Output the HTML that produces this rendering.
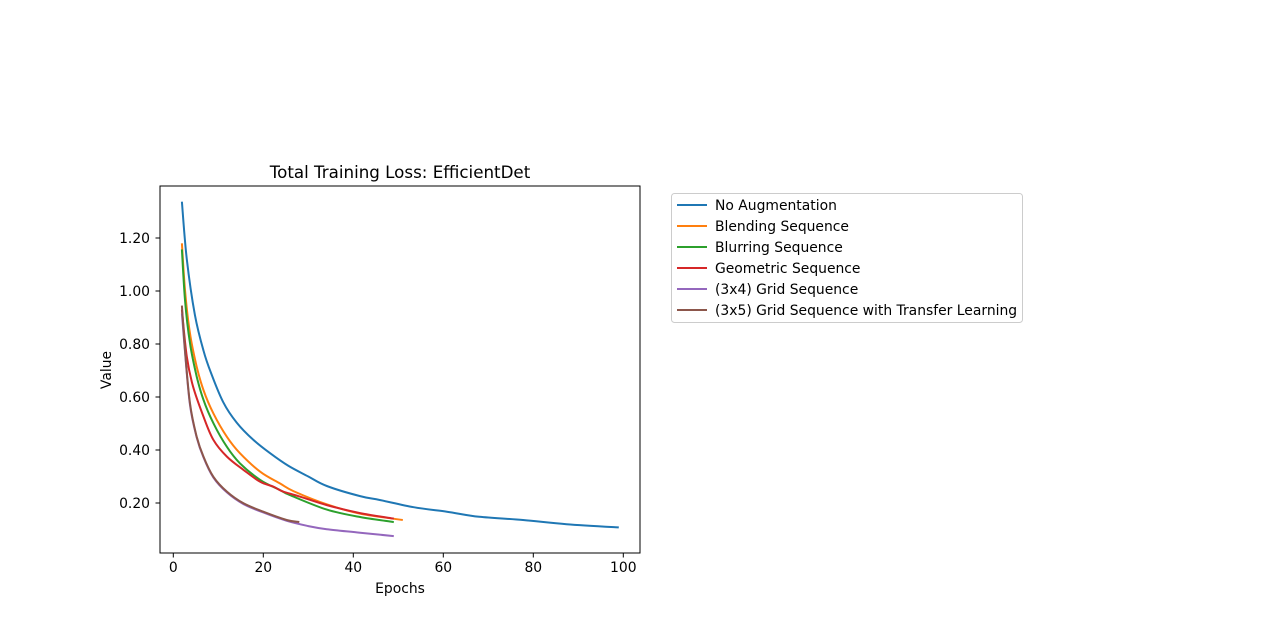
<!DOCTYPE html>
<html><head><meta charset="utf-8">
<style>
html,body{margin:0;padding:0;background:#fff;}
svg{display:block;font-family:"DejaVu Sans","Liberation Sans",sans-serif;}
</style></head>
<body>
<svg id="chart" width="1280" height="621" viewBox="0 0 1280 621">
<text x="400" y="178" font-size="16.7" text-anchor="middle">Total Training Loss: EfficientDet</text>
<g id="plot"></g>
<g id="axes"></g>
<rect x="160" y="186" width="480" height="367" fill="none" stroke="#000" stroke-width="1"/>
<text x="400" y="593" font-size="13.9" text-anchor="middle">Epochs</text>
<text x="111" y="370" font-size="13.9" text-anchor="middle" transform="rotate(-90 111 370)">Value</text>
<g id="legend">
<rect x="671.5" y="193.5" width="351" height="129" rx="3" fill="#fff" stroke="#ccc"/>
</g>
</svg>
<script>
const seriesNames = ["No Augmentation","Blending Sequence","Blurring Sequence","Geometric Sequence","(3x4) Grid Sequence","(3x5) Grid Sequence with Transfer Learning"];
const colors = ["#1f77b4","#ff7f0e","#2ca02c","#d62728","#9467bd","#8c564b"];
const blueX = [1.9,3,4.8,6.7,8.5,11.1,14.1,17.8,21.5,25.6,30,34.1,41.5,46,53.4,60.8,68,77.7,87.4,99];
const blueY = [1.337,1.12,0.91,0.775,0.685,0.58,0.503,0.438,0.388,0.34,0.3,0.264,0.226,0.211,0.184,0.167,0.148,0.136,0.12,0.108];
const orangeX = [1.9,2.6,3.7,5.2,6.7,8.9,11.9,14.8,19.3,23.7,26.7,34.1,41.5,51];
const orangeY = [1.18,1.004,0.84,0.714,0.626,0.538,0.45,0.388,0.318,0.274,0.245,0.195,0.16,0.136];
const greenX = [1.9,2.6,3.7,5.2,6.7,8.9,11.9,14.8,19.3,23.7,25.9,34.1,41.5,49];
const greenY = [1.157,0.966,0.803,0.677,0.589,0.501,0.412,0.35,0.287,0.249,0.23,0.175,0.147,0.128];
const redX = [1.9,3,4.4,6.7,8.9,11.9,15.6,19.3,22.2,24.4,28,34.1,41.5,49];
const redY = [0.93,0.752,0.639,0.526,0.438,0.375,0.325,0.28,0.262,0.243,0.225,0.192,0.162,0.141];
const purpleX = [1.9,2.6,3.7,5.2,6.7,8.9,11.9,15.6,20,25.2,30,34.1,41.5,49];
const purpleY = [0.915,0.77,0.57,0.447,0.372,0.296,0.24,0.196,0.164,0.133,0.113,0.101,0.088,0.075];
const brownX = [1.9,2.6,3.7,5.2,6.7,8.9,11.9,15.6,20,25.2,28];
const brownY = [0.945,0.777,0.576,0.45,0.375,0.299,0.243,0.199,0.167,0.136,0.128];
const xTicks = [0,20,40,60,80,100];
const yTicks = [0.2,0.4,0.6,0.8,1.0,1.2];
const yTickLabels = ["0.20","0.40","0.60","0.80","1.00","1.20"];

const NS = "http://www.w3.org/2000/svg";
function xs(v){ return 173.3 + v*4.5; }
function ys(v){ return 503 - (v-0.2)*265; }
const plot = document.getElementById('plot');
const axes = document.getElementById('axes');
const legend = document.getElementById('legend');
const allX = [blueX,orangeX,greenX,redX,purpleX,brownX];
const allY = [blueY,orangeY,greenY,redY,purpleY,brownY];
function smoothPath(px, py){
  const P = px.map((x,i)=>[xs(x), ys(py[i])]);
  let d = 'M'+P[0][0].toFixed(1)+','+P[0][1].toFixed(1);
  for (let i=0;i<P.length-1;i++){
    const p0=P[Math.max(i-1,0)], p1=P[i], p2=P[i+1], p3=P[Math.min(i+2,P.length-1)];
    const c1=[p1[0]+(p2[0]-p0[0])/6, p1[1]+(p2[1]-p0[1])/6];
    const c2=[p2[0]-(p3[0]-p1[0])/6, p2[1]-(p3[1]-p1[1])/6];
    d += ' C'+c1[0].toFixed(1)+','+c1[1].toFixed(1)+' '+c2[0].toFixed(1)+','+c2[1].toFixed(1)+' '+p2[0].toFixed(1)+','+p2[1].toFixed(1);
  }
  return d;
}
for (let s=0;s<6;s++){
  const p = document.createElementNS(NS,'path');
  p.setAttribute('d', smoothPath(allX[s], allY[s]));
  p.setAttribute('fill','none');
  p.setAttribute('stroke',colors[s]);
  p.setAttribute('stroke-width','2');
  p.setAttribute('stroke-linejoin','round');
  
  
  plot.appendChild(p);
  const ly = 205 + s*21;
  const l = document.createElementNS(NS,'line');
  l.setAttribute('x1',677); l.setAttribute('x2',707);
  l.setAttribute('y1',ly); l.setAttribute('y2',ly);
  l.setAttribute('stroke',colors[s]); l.setAttribute('stroke-width','2');
  
  
  legend.appendChild(l);
  const t = document.createElementNS(NS,'text');
  t.setAttribute('x',715); t.setAttribute('y',ly+5);
  t.setAttribute('font-size','13.9');
  t.textContent = seriesNames[s];
  
  
  legend.appendChild(t);
}
xTicks.forEach(v=>{
  const x = xs(v);
  const l = document.createElementNS(NS,'line');
  l.setAttribute('x1',x); l.setAttribute('x2',x); l.setAttribute('y1',553); l.setAttribute('y2',557.5);
  l.setAttribute('stroke','#000');
  
  
  axes.appendChild(l);
  const t = document.createElementNS(NS,'text');
  t.setAttribute('x',x); t.setAttribute('y',572); t.setAttribute('font-size','13.9'); t.setAttribute('text-anchor','middle');
  t.textContent = v;
  
  
  axes.appendChild(t);
});
yTicks.forEach((v,i)=>{
  const y = ys(v);
  const l = document.createElementNS(NS,'line');
  l.setAttribute('x1',155.5); l.setAttribute('x2',160); l.setAttribute('y1',y); l.setAttribute('y2',y);
  l.setAttribute('stroke','#000');
  
  
  axes.appendChild(l);
  const t = document.createElementNS(NS,'text');
  t.setAttribute('x',150); t.setAttribute('y',y+5); t.setAttribute('font-size','13.9'); t.setAttribute('text-anchor','end');
  t.textContent = yTickLabels[i];
  
  
  axes.appendChild(t);
});
</script>
</body></html>
